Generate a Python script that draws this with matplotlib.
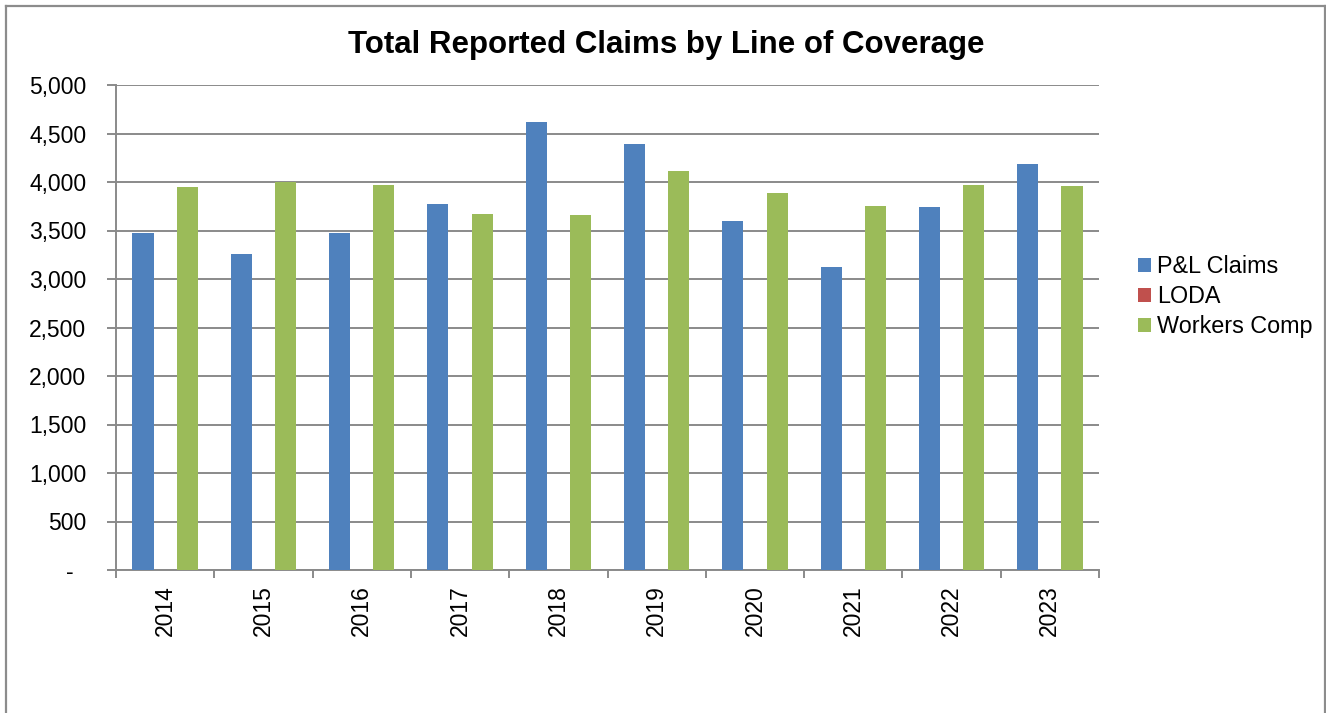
import numpy as np
import matplotlib.pyplot as plt
from matplotlib.lines import Line2D
from matplotlib.ticker import FuncFormatter

years = ['2014', '2015', '2016', '2017', '2018', '2019', '2020', '2021', '2022', '2023']
pl_claims = [3470, 3260, 3470, 3770, 4620, 4390, 3600, 3120, 3740, 4190]
loda = [0, 0, 0, 0, 0, 0, 0, 0, 0, 0]
workers_comp = [3950, 4000, 3965, 3670, 3655, 4115, 3885, 3755, 3970, 3955]

plt.rcParams['font.family'] = ['Liberation Sans', 'DejaVu Sans']

fig = plt.figure(figsize=(13.26, 7.13), dpi=100)
ax = fig.add_axes([116 / 1326, 1 - 570 / 713, (1099 - 116) / 1326, (570 - 85) / 713])

x = np.arange(len(years))
w = 0.215
off = 0.225
ax.bar(x - off, pl_claims, w, color='#4F81BD', label='P&L Claims', zorder=3)
ax.bar(x, loda, w, color='#C0504D', label='LODA', zorder=3)
ax.bar(x + off, workers_comp, w, color='#9BBB59', label='Workers Comp', zorder=3)

grid_c = '#8a8a8a'
ax.set_xlim(-0.5, len(years) - 0.5)
ax.set_ylim(0, 5000)
ax.set_yticks(np.arange(0, 5001, 500))
ax.yaxis.set_major_formatter(FuncFormatter(lambda v, p: '-  ' if v == 0 else f'{int(v):,}'))
ax.grid(axis='y', color=grid_c, linewidth=1.4, zorder=0)

# category boundaries carry the ticks, centres carry the labels
ax.set_xticks(np.arange(-0.5, len(years), 1.0))
ax.set_xticklabels([])
ax.set_xticks(x, minor=True)
ax.set_xticklabels(years, minor=True, rotation=90)
ax.tick_params(axis='x', which='major', length=6, width=1.4, color=grid_c, direction='out')
ax.tick_params(axis='x', which='minor', length=0, pad=11, labelsize=16.5)
ax.tick_params(axis='y', length=6.5, width=1.4, color=grid_c, pad=15, labelsize=16.5)

for s in ['top', 'right']:
    ax.spines[s].set_visible(False)
for s in ['left', 'bottom']:
    ax.spines[s].set_color(grid_c)
    ax.spines[s].set_linewidth(1.4)

fig.text(666 / 1326, 1 - 45 / 713, 'Total Reported Claims by Line of Coverage',
         ha='center', va='center', fontsize=22.5, fontweight='bold')

ax.legend(loc='center left', bbox_to_anchor=(1.04, 0.563), frameon=False,
          fontsize=16.8, handlelength=0.55, handleheight=0.55, handletextpad=0.25,
          labelspacing=0.3, borderaxespad=0, borderpad=0)

# outer chart border
bc = '#8c8c8c'
x0, x1, y1 = 5.5 / 1326, 1324.5 / 1326, 1 - 5.5 / 713
for xs, ys in [([x0, x0], [0, y1]), ([x0, x1], [y1, y1]), ([x1, x1], [y1, 0])]:
    fig.add_artist(Line2D(xs, ys, color=bc, linewidth=1.6, transform=fig.transFigure))

plt.savefig('out.png', dpi=100)
